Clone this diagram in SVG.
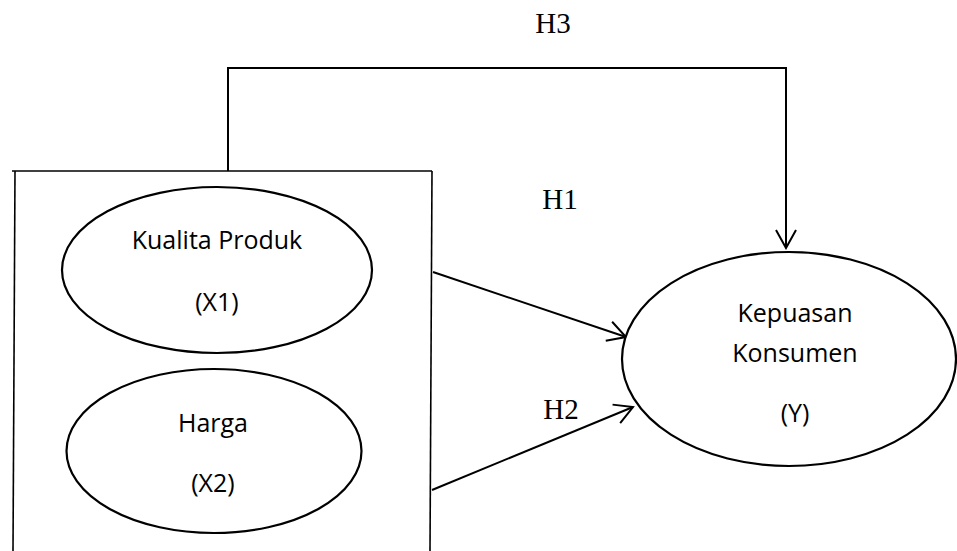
<svg xmlns="http://www.w3.org/2000/svg" width="957" height="551" viewBox="0 0 957 551">
  <style>
    .bg { fill: #ffffff; }
    .box { fill: none; stroke: #000; stroke-width: 1.6; }
    .node { fill: #ffffff; stroke: #000; stroke-width: 2.2; }
    .lbl { font-family: "Open Sans", "Noto Sans", "Liberation Sans", sans-serif; font-size: 25px; fill: #000; text-anchor: middle; }
    .h { font-family: "Liberation Serif", "Times New Roman", serif; font-size: 29px; fill: #000; text-anchor: middle; }
    .conn { fill: none; stroke: #000; stroke-width: 2; }
  </style>
  <defs>
    <marker id="arrow" markerUnits="userSpaceOnUse" viewBox="-21 -12 23 24" refX="0" refY="0" markerWidth="23" markerHeight="24" orient="auto">
      <path d="M-18,-10 L0,0 L-18,10" fill="none" stroke="#000" stroke-width="2"/>
    </marker>
  </defs>
  <rect class="bg" x="0" y="0" width="957" height="551"/>

  <g id="box">
    <path class="box" d="M12,171 H432"/>
    <path class="box" d="M15,171 L13,551"/>
    <path class="box" d="M432,171 L430,551"/>
  </g>

  <g id="connectors">
    <path class="conn" d="M228,171 V68 H786 V248" marker-end="url(#arrow)"/>
    <path class="conn" d="M433,272 L626,337" marker-end="url(#arrow)"/>
    <path class="conn" d="M432,490 L633,407" marker-end="url(#arrow)"/>
  </g>

  <g id="node-x1">
    <ellipse class="node" cx="217" cy="270" rx="155" ry="83"/>
    <text class="lbl" x="217" y="249">Kualita Produk</text>
    <text class="lbl" x="217" y="311">(X1)</text>
  </g>

  <g id="node-x2">
    <ellipse class="node" cx="214" cy="451" rx="147.5" ry="82"/>
    <text class="lbl" x="213" y="432">Harga</text>
    <text class="lbl" x="213" y="492">(X2)</text>
  </g>

  <g id="node-y">
    <ellipse class="node" cx="789" cy="359" rx="167" ry="107"/>
    <text class="lbl" x="795" y="322">Kepuasan</text>
    <text class="lbl" x="795" y="362">Konsumen</text>
    <text class="lbl" x="795" y="422">(Y)</text>
  </g>

  <g id="labels">
    <text class="h" x="553" y="33">H3</text>
    <text class="h" x="560" y="209">H1</text>
    <text class="h" x="561" y="419">H2</text>
  </g>
</svg>
